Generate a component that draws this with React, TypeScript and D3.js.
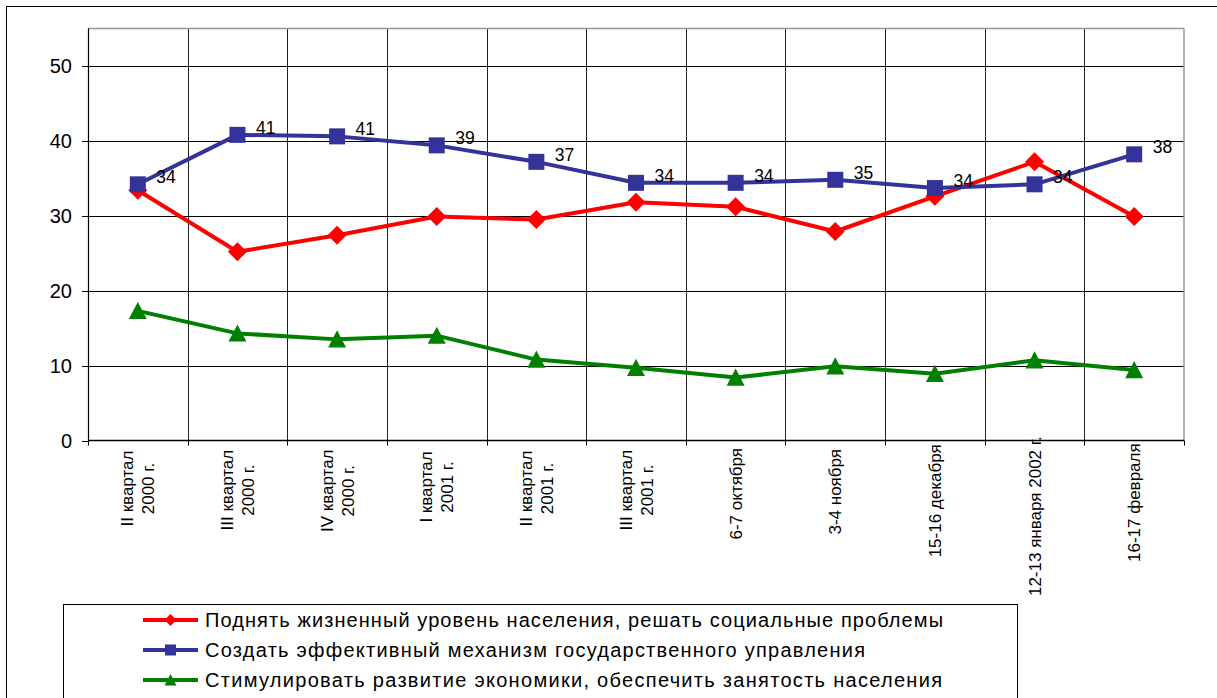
import React from "react";
import * as d3 from "d3";

const categories: string[] = [
  "II квартал\n2000 г.",
  "III квартал\n2000 г.",
  "IV квартал\n2000 г.",
  "I квартал\n2001 г.",
  "II квартал\n2001 г.",
  "III квартал\n2001 г.",
  "6-7 октября",
  "3-4 ноября",
  "15-16 декабря",
  "12-13 января 2002 г.",
  "16-17 февраля",
];

const redValues: number[] = [33.4, 25.2, 27.4, 29.9, 29.5, 31.8, 31.2, 27.9, 32.6, 37.2, 29.9];
const blueValues: number[] = [34.2, 40.8, 40.6, 39.4, 37.2, 34.4, 34.4, 34.8, 33.7, 34.2, 38.2];
const greenValues: number[] = [17.3, 14.3, 13.5, 14.0, 10.8, 9.7, 8.4, 9.9, 8.9, 10.7, 9.4];

const seriesNames: string[] = [
  "Поднять жизненный уровень населения, решать социальные проблемы",
  "Создать эффективный механизм государственного управления",
  "Стимулировать развитие экономики, обеспечить занятость населения",
];

const yTicks: number[] = [0, 10, 20, 30, 40, 50];

const FONT = "'Liberation Sans', Arial, Helvetica, sans-serif";

const RED = "#FF0000";
const BLUE = "#333399";
const GREEN = "#008000";

function measure(text: string, size: number): number {
  const c = document.createElement("canvas");
  const ctx = c.getContext("2d");
  if (!ctx) return text.length * size * 0.5;
  ctx.font = `${size}px ${FONT}`;
  return ctx.measureText(text).width;
}

type MarkerKind = "diamond" | "square" | "triangle";

function Marker({ kind, x, y, size, color }: { kind: MarkerKind; x: number; y: number; size: number; color: string }) {
  if (kind === "square") {
    return <rect x={x - size / 2} y={y - size / 2} width={size} height={size} fill={color} />;
  }
  if (kind === "diamond") {
    const h = size / 2;
    return <path d={`M${x},${y - h}L${x + h},${y}L${x},${y + h}L${x - h},${y}Z`} fill={color} />;
  }
  const h = size / 2;
  return <path d={`M${x},${y - h}L${x + h},${y + h * 0.9}L${x - h},${y + h * 0.9}Z`} fill={color} />;
}

export default function App() {
  const W = 1217;
  const H = 698;
  const left = 88;
  const right = 1184;
  const top = 28.5;
  const bottom = 440.5;

  const x = d3.scaleBand<string>().domain(categories.map((c, i) => String(i))).range([left, right]).padding(0);
  const cx = (i: number) => (x(String(i)) as number) + x.bandwidth() / 2;
  const y = d3.scaleLinear().domain([0, 55]).range([bottom, top]);

  const line = d3
    .line<number>()
    .x((_, i) => cx(i))
    .y((d) => y(d));

  const series: { values: number[]; color: string; kind: MarkerKind; size: number }[] = [
    { values: redValues, color: RED, kind: "diamond", size: 19 },
    { values: blueValues, color: BLUE, kind: "square", size: 16 },
    { values: greenValues, color: GREEN, kind: "triangle", size: 18 },
  ];

  const boundaries = d3.range(categories.length + 1).map((i) => left + i * x.bandwidth());

  const legendRows = [620, 650, 680];
  const legendWidths = [738, 660, 737];
  const legendKinds: MarkerKind[] = ["diamond", "square", "triangle"];
  const legendColors = [RED, BLUE, GREEN];

  return (
    <svg width={W} height={H} style={{ position: "absolute", left: 0, top: 0, background: "#fff" }} fontFamily={FONT}>
      <rect x={0} y={0} width={W} height={H} fill="#fff" />
      {/* outer chart border */}
      <rect x={6.5} y={6.5} width={W + 20} height={H + 20} fill="none" stroke="#000" strokeWidth={1} />

      {/* horizontal gridlines */}
      {yTicks
        .filter((t) => t > 0)
        .map((t) => (
          <line key={"h" + t} x1={left} x2={right} y1={Math.round(y(t)) + 0.5} y2={Math.round(y(t)) + 0.5} stroke="#000" strokeWidth={1} />
        ))}
      {/* vertical gridlines */}
      {boundaries.slice(1, -1).map((bx, i) => (
        <line key={"v" + i} x1={Math.round(bx) + 0.5} x2={Math.round(bx) + 0.5} y1={top} y2={bottom} stroke="#222" strokeWidth={1} />
      ))}
      {/* plot border top & right */}
      <line x1={left} x2={right} y1={top} y2={top} stroke="#999" strokeWidth={1.5} />
      <line x1={right} x2={right} y1={top} y2={bottom} stroke="#999" strokeWidth={1.5} />

      {/* axes */}
      <line x1={left + 0.5} x2={left + 0.5} y1={top} y2={bottom} stroke="#000" strokeWidth={1.2} />
      <line x1={left} x2={right} y1={bottom} y2={bottom} stroke="#000" strokeWidth={1.5} />
      {yTicks.map((t) => (
        <g key={"yt" + t}>
          <line x1={left - 6} x2={left} y1={Math.round(y(t)) + 0.5} y2={Math.round(y(t)) + 0.5} stroke="#000" />
          <text x={72} y={y(t)} dy="0.36em" textAnchor="end" fontSize={20} fill="#000">
            {t}
          </text>
        </g>
      ))}
      {boundaries.map((bx, i) => (
        <line key={"xt" + i} x1={Math.round(bx) + 0.5} x2={Math.round(bx) + 0.5} y1={bottom} y2={bottom + 5} stroke="#000" />
      ))}

      {/* x labels */}
      {categories.map((c, i) => {
        const lines = c.split("\n");
        const L = Math.max(...lines.map((l) => measure(l, 17)));
        const center = 463.5 + 0.33 * L;
        const n = lines.length;
        return (
          <g key={"xl" + i} transform={`translate(${cx(i)},${center}) rotate(-90)`}>
            {lines.map((l, j) => (
              <text key={j} x={0} y={6 + (j - (n - 1) / 2) * 21} textAnchor="middle" fontSize={17} fill="#000">
                {l}
              </text>
            ))}
          </g>
        );
      })}

      {/* series: line then markers, in order */}
      {series.map((s, k) => (
        <g key={"s" + k}>
          <path d={line(s.values) || ""} fill="none" stroke={s.color} strokeWidth={4} strokeLinejoin="round" />
          {s.values.map((v, i) => (
            <Marker key={i} kind={s.kind} x={cx(i)} y={y(v)} size={s.size} color={s.color} />
          ))}
        </g>
      ))}
      {/* data labels for blue series */}
      {blueValues.map((v, i) => (
        <text key={"dl" + i} x={cx(i) + 18.5} y={y(v) - 1} fontSize={17.5} fill="#000">
          {d3.format(".0f")(v)}
        </text>
      ))}

      {/* legend */}
      <rect x={63.5} y={604.5} width={954} height={200} fill="#fff" stroke="#000" strokeWidth={1} />
      {seriesNames.map((name, k) => (
        <g key={"lg" + k}>
          <line x1={143} x2={198} y1={legendRows[k]} y2={legendRows[k]} stroke={legendColors[k]} strokeWidth={4} />
          <Marker kind={legendKinds[k]} x={170.5} y={legendRows[k]} size={legendKinds[k] === "square" ? 11 : 12} color={legendColors[k]} />
          <text x={205} y={legendRows[k] + 7} fontSize={20} fill="#000" textLength={legendWidths[k]} lengthAdjust="spacing">
            {name}
          </text>
        </g>
      ))}
    </svg>
  );
}
